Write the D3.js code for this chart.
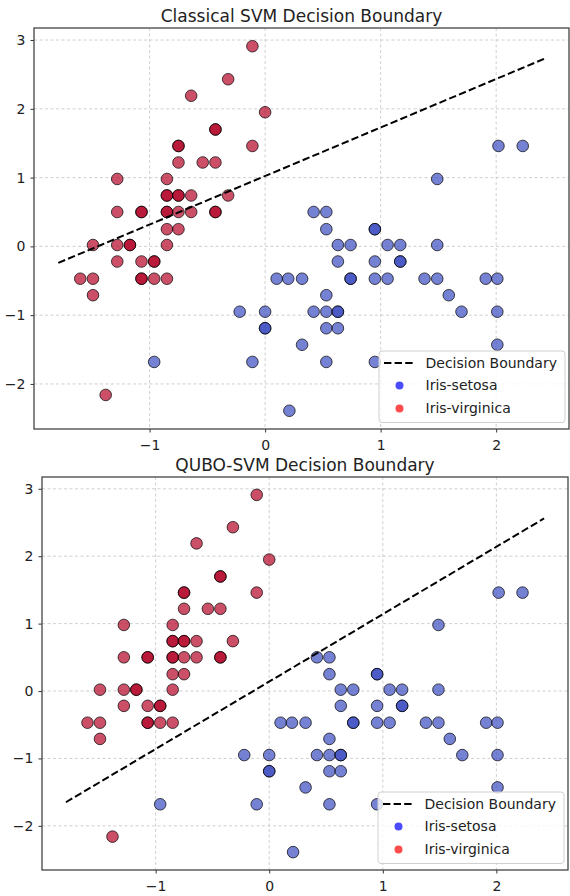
<!DOCTYPE html>
<html>
<head>
<meta charset="utf-8">
<script src="https://cdn.jsdelivr.net/npm/d3@7"></script>
<style>
  body { margin: 0; background: #fff; }
  svg { display: block; font-family: "DejaVu Sans", sans-serif; }
</style>
</head>
<body>
<svg id="chart" width="570" height="896"></svg>
<script>
// points (same sample in both panels)
const virginicaX = [-0.11, -0.32, -0.64, 0.00, -0.43, -0.43, -0.75, -0.75, -0.11, -0.75, -0.54, -0.43,
  -1.28, -0.85, -0.85, -0.85, -0.75, -0.75, -0.64, -0.32, -1.28, -1.07, -1.07, -0.85, -0.85, -0.75,
  -0.64, -0.43, -0.43, -0.85, -0.75, -1.49, -1.28, -1.17, -1.17, -0.85, -1.28, -1.07, -0.96, -0.96,
  -1.60, -1.49, -1.07, -1.07, -0.96, -0.85, -1.49, -1.38];
const virginicaY = [2.91, 2.43, 2.19, 1.95, 1.70, 1.70, 1.46, 1.46, 1.46, 1.22, 1.22, 1.22,
  0.98, 0.98, 0.74, 0.74, 0.74, 0.74, 0.74, 0.74, 0.50, 0.50, 0.50, 0.50, 0.50, 0.50,
  0.50, 0.50, 0.50, 0.25, 0.25, 0.02, 0.02, 0.02, 0.02, 0.02, -0.22, -0.22, -0.22, -0.22,
  -0.47, -0.47, -0.47, -0.47, -0.47, -0.47, -0.71, -2.16];

const setosaX = [1.49, 2.02, 2.23, 0.42, 0.53, 0.53, 0.95, 0.95, 0.63, 0.74, 1.06, 1.17, 1.49,
  0.63, 0.95, 1.17, 1.17, 0.10, 0.20, 0.32, 0.74, 0.74, 0.95, 1.06, 1.38, 1.49, 1.91, 2.01,
  0.53, 1.59, -0.22, 0.00, 0.42, 0.53, 0.63, 0.63, 1.70, 2.01, 0.00, 0.00, 0.53, 0.63,
  0.32, 2.01, -0.96, -0.11, 0.53, 0.95, 0.21];
const setosaY = [0.98, 1.46, 1.46, 0.50, 0.50, 0.25, 0.25, 0.25, 0.02, 0.02, 0.02, 0.02, 0.02,
  -0.22, -0.22, -0.22, -0.22, -0.47, -0.47, -0.47, -0.47, -0.47, -0.47, -0.47, -0.47, -0.47, -0.47, -0.47,
  -0.71, -0.71, -0.95, -0.95, -0.95, -0.95, -0.95, -0.95, -0.95, -0.95, -1.19, -1.19, -1.19, -1.19,
  -1.43, -1.43, -1.68, -1.68, -1.68, -1.68, -2.39];

// decision boundary end points
const boundaryX = [-1.79, 2.42];
const classicalY = [-0.24, 2.73];
const quboY = [-1.65, 2.56];

const xTicks = [-1, 0, 1, 2];
const yTicks = [-2, -1, 0, 1, 2, 3];
const titles = ["Classical SVM Decision Boundary", "QUBO-SVM Decision Boundary"];
const legendLabels = ["Decision Boundary", "Iris-setosa", "Iris-virginica"];

const svg = d3.select("#chart");

const panels = [
  { title: titles[0], lineY: classicalY, left: 34, right: 569, top: 28, bottom: 429 },
  { title: titles[1], lineY: quboY, left: 42, right: 568, top: 477, bottom: 870 }
];

const setosa = setosaX.map((x, i) => ({ x, y: setosaY[i], c: "#3b4cc0" }));
const virginica = virginicaX.map((x, i) => ({ x, y: virginicaY[i], c: "#b40426" }));
const points = setosa.concat(virginica);

// matplotlib-like 5% padding around everything plotted
function padded(vals) {
  const [lo, hi] = d3.extent(vals);
  const m = (hi - lo) * 0.05;
  return [lo - m, hi + m];
}

panels.forEach((p, idx) => drawPanel(p, idx));

function drawPanel(p, idx) {
  const xDom = padded(setosaX.concat(virginicaX, boundaryX));
  const yDom = padded(setosaY.concat(virginicaY, p.lineY));
  const x = d3.scaleLinear().domain(xDom).range([p.left, p.right]);
  const y = d3.scaleLinear().domain(yDom).range([p.bottom, p.top]);

  const g = svg.append("g");

  g.append("clipPath").attr("id", "clip" + idx)
    .append("rect")
    .attr("x", p.left).attr("y", p.top)
    .attr("width", p.right - p.left).attr("height", p.bottom - p.top);

  // grid
  g.append("g").selectAll("line").data(xTicks).join("line")
    .attr("x1", d => x(d)).attr("x2", d => x(d))
    .attr("y1", p.top).attr("y2", p.bottom)
    .attr("stroke", "#c4c4c4").attr("stroke-width", 0.8)
    .attr("stroke-dasharray", "3,2.5");
  g.append("g").selectAll("line").data(yTicks).join("line")
    .attr("y1", d => y(d)).attr("y2", d => y(d))
    .attr("x1", p.left).attr("x2", p.right)
    .attr("stroke", "#c4c4c4").attr("stroke-width", 0.8)
    .attr("stroke-dasharray", "3,2.5");

  const plot = g.append("g").attr("clip-path", `url(#clip${idx})`);

  plot.selectAll("circle").data(points).join("circle")
    .attr("cx", d => x(d.x))
    .attr("cy", d => y(d.y))
    .attr("r", 5.8)
    .attr("fill", d => d.c).attr("fill-opacity", 0.7)
    .attr("stroke", "#000").attr("stroke-opacity", 0.7)
    .attr("stroke-width", 1);

  plot.append("path")
    .datum(boundaryX.map((bx, i) => [bx, p.lineY[i]]))
    .attr("d", d3.line().x(d => x(d[0])).y(d => y(d[1])))
    .attr("fill", "none")
    .attr("stroke", "#000").attr("stroke-width", 2)
    .attr("stroke-dasharray", "7.4,3.2");

  // axes
  const fmt = d3.format("d");
  const xAxis = g.append("g")
    .attr("transform", `translate(0,${p.bottom})`)
    .call(d3.axisBottom(x).tickValues(xTicks).tickFormat(fmt).tickSize(3.5).tickPadding(7.5));
  const yAxis = g.append("g")
    .attr("transform", `translate(${p.left},0)`)
    .call(d3.axisLeft(y).tickValues(yTicks).tickFormat(fmt).tickSize(3.5).tickPadding(5));
  [xAxis, yAxis].forEach(a => {
    a.select(".domain").remove();
    a.selectAll("line").attr("stroke", "#333");
    a.selectAll("text").attr("fill", "#222").style("font-size", "14px")
      .style("font-family", "'DejaVu Sans', sans-serif");
  });

  g.append("rect")
    .attr("x", p.left).attr("y", p.top)
    .attr("width", p.right - p.left).attr("height", p.bottom - p.top)
    .attr("fill", "none").attr("stroke", "#444").attr("stroke-width", 1.3);

  g.append("text")
    .attr("x", (p.left + p.right) / 2)
    .attr("y", p.top - 6)
    .attr("text-anchor", "middle")
    .attr("fill", "#222")
    .style("font-size", "17px")
    .text(p.title);

  // legend
  const lw = 186, lh = 71.5;
  const lx = p.right - 4 - lw, ly = p.bottom - 6.5 - lh;
  const leg = g.append("g").attr("transform", `translate(${lx},${ly})`);
  leg.append("rect")
    .attr("width", lw).attr("height", lh).attr("rx", 3)
    .attr("fill", "#fff").attr("fill-opacity", 0.8)
    .attr("stroke", "#d0d0d0").attr("stroke-width", 1);
  const rows = [12, 34.5, 57.5];
  leg.append("line")
    .attr("x1", 5).attr("x2", 35).attr("y1", rows[0]).attr("y2", rows[0])
    .attr("stroke", "#000").attr("stroke-width", 2).attr("stroke-dasharray", "7.4,3.2");
  leg.append("circle").attr("cx", 20.5).attr("cy", rows[1]).attr("r", 4)
    .attr("fill", "blue").attr("fill-opacity", 0.7);
  leg.append("circle").attr("cx", 20.5).attr("cy", rows[2]).attr("r", 4)
    .attr("fill", "red").attr("fill-opacity", 0.7);
  leg.selectAll("text.lab").data(legendLabels).join("text")
    .attr("class", "lab")
    .attr("x", 46.5)
    .attr("y", (d, i) => rows[i])
    .attr("dy", "0.35em")
    .attr("fill", "#222")
    .style("font-size", "14px")
    .text(d => d);
}
</script>
</body>
</html>
